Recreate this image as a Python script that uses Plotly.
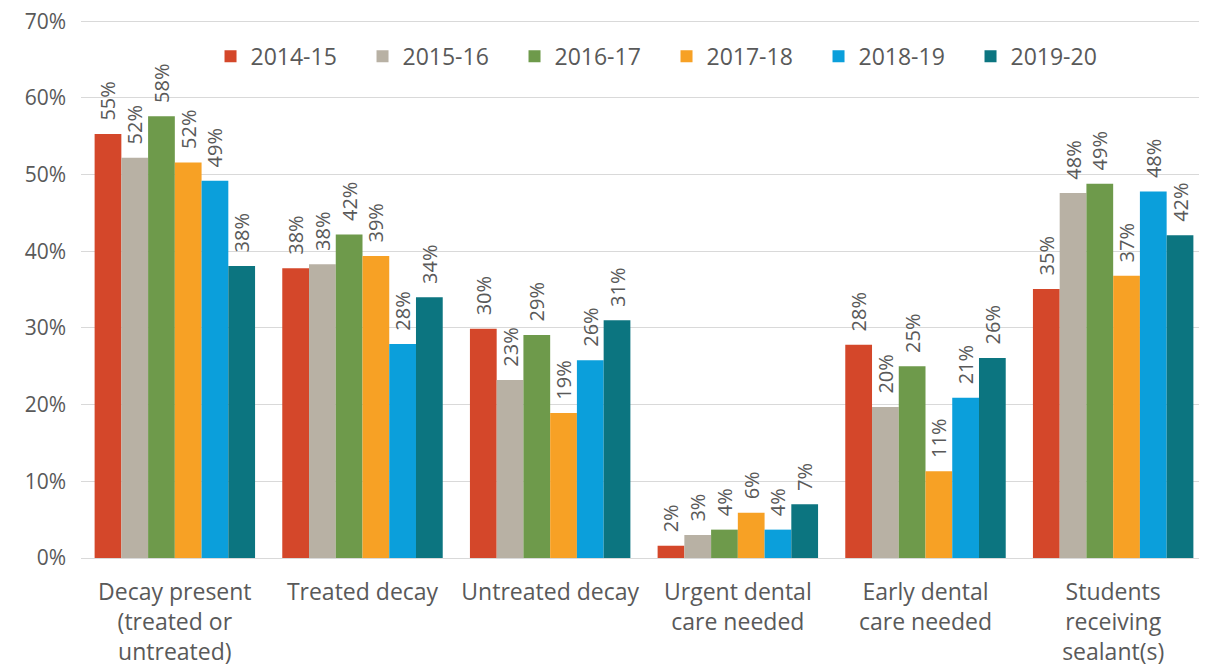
import plotly.graph_objects as go

categories = ["Decay present<br>(treated or<br>untreated)", "Treated decay", "Untreated decay",
              "Urgent dental<br>care needed", "Early dental<br>care needed", "Students<br>receiving<br>sealant(s)"]
years = ["2014-15", "2015-16", "2016-17", "2017-18", "2018-19", "2019-20"]
values = {
    "2014-15": [55.3, 37.8, 29.9, 1.6, 27.8, 35.1],
    "2015-16": [52.2, 38.3, 23.2, 3.0, 19.7, 47.6],
    "2016-17": [57.6, 42.2, 29.1, 3.7, 25.0, 48.8],
    "2017-18": [51.6, 39.4, 18.9, 5.9, 11.3, 36.8],
    "2018-19": [49.2, 27.9, 25.8, 3.7, 20.9, 47.8],
    "2019-20": [38.1, 34.0, 31.0, 7.0, 26.1, 42.1],
}
y_ticks = [0, 10, 20, 30, 40, 50, 60, 70]
colors = ["#D4472A", "#B8B1A4", "#6E9A4B", "#F7A125", "#0B9FDB", "#0C7580"]

fig = go.Figure()
for yr, c in zip(years, colors):
    v = [x / 100 for x in values[yr]]
    fig.add_trace(go.Bar(
        x=categories, y=v, name=yr, marker_color=c, marker_line_width=0,
        text=[f"\u00a0\u00a0{round(x*100)}%" for x in v], textposition="outside", textangle=-90,
        constraintext="none",
        textfont=dict(family="Open Sans", size=20, color="#595959"),
        cliponaxis=False,
    ))

fig.update_layout(
    width=1199, height=663,
    margin=dict(l=73, r=0, t=11, b=113, autoexpand=False),
    plot_bgcolor="white", paper_bgcolor="white",
    barmode="group", bargap=0.145, bargroupgap=0,
    font=dict(family="Open Sans", color="#595959"),
    legend=dict(orientation="h", x=0.520, xanchor="center", y=0.931, yanchor="middle",
                font=dict(family="Open Sans", size=23, color="#595959"),
                entrywidth=107, entrywidthmode="pixels", bgcolor="rgba(0,0,0,0)"),
    yaxis=dict(range=[0, 0.703], tickmode="array", tickvals=[t / 100 for t in y_ticks],
               ticktext=[f"{t}%" for t in y_ticks], ticklabeloverflow="allow",
               automargin=False,
               showgrid=True, gridcolor="#D9D9D9", gridwidth=1.3, zeroline=False, showline=False,
               tickfont=dict(family="Open Sans", size=21, color="#595959"),
               ticks="", ticklabelstandoff=14),
    xaxis=dict(showline=True, linecolor="#D9D9D9", linewidth=1.3, ticks="",
               ticklabelstandoff=13, automargin=False,
               tickfont=dict(family="Open Sans", size=23, color="#595959")),
)
fig.write_html("out.html")
